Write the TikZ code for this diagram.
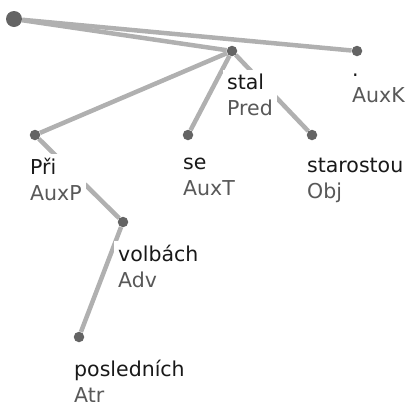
\documentclass[tikz,border=0pt]{standalone}
\usepackage{fontspec}
\setmainfont{DejaVu Sans}
\usetikzlibrary{positioning,backgrounds}
\definecolor{EdgeGray}{RGB}{176,176,176}
\definecolor{DotGray}{RGB}{100,100,100}
\definecolor{AfunGray}{RGB}{88,88,88}
\newcommand\afun[1]{\textcolor{AfunGray}{#1}}

\begin{document}
\begin{tikzpicture}[x=1pt,y=-1pt,
  dot/.style={circle,fill=DotGray,inner sep=0pt,minimum size=10.5pt},
  rootdot/.style={dot,minimum size=16pt},
  edge/.style={EdgeGray,line width=4.5pt},
  lbl/.style={fill=white,inner sep=4pt,align=left,text=black!90,
    font=\fontsize{20.5}{26}\selectfont,below right=19pt and -9pt of #1.center}]
\useasboundingbox (0,0) rectangle (406,402);

% tree nodes
\node[rootdot] (root) at (14,19) {};
\node[dot] (stal) at (232,51) {};
\node[dot] (tecka) at (357,51) {};
\node[dot] (pri) at (35,135) {};
\node[dot] (se) at (188,135) {};
\node[dot] (starostou) at (312,135) {};
\node[dot] (volbach) at (123,222) {};
\node[dot] (poslednich) at (79,337) {};

% dependencies
\begin{scope}[on background layer]
\draw[edge] (root) -- (stal);
\draw[edge] (root) -- (tecka);
\draw[edge] (stal) -- (pri);
\draw[edge] (stal) -- (se);
\draw[edge] (stal) -- (starostou);
\draw[edge] (pri) -- (volbach);
\draw[edge] (volbach) -- (poslednich);
\end{scope}

% word forms and afuns
\node[lbl=stal] (stal-l) {stal\\\afun{Pred}};
\node[lbl=tecka] (tecka-l) {.\\\afun{AuxK}};
\node[lbl=pri] (pri-l) {Při\\\afun{AuxP}};
\node[lbl=se] (se-l) {se\\\afun{AuxT}};
\node[lbl=starostou] (starostou-l) {starostou\\\afun{Obj}};
\node[lbl=volbach] (volbach-l) {volbách\\\afun{Adv}};
\node[lbl=poslednich] (poslednich-l) {posledních\\\afun{Atr}};
\end{tikzpicture}
\end{document}
